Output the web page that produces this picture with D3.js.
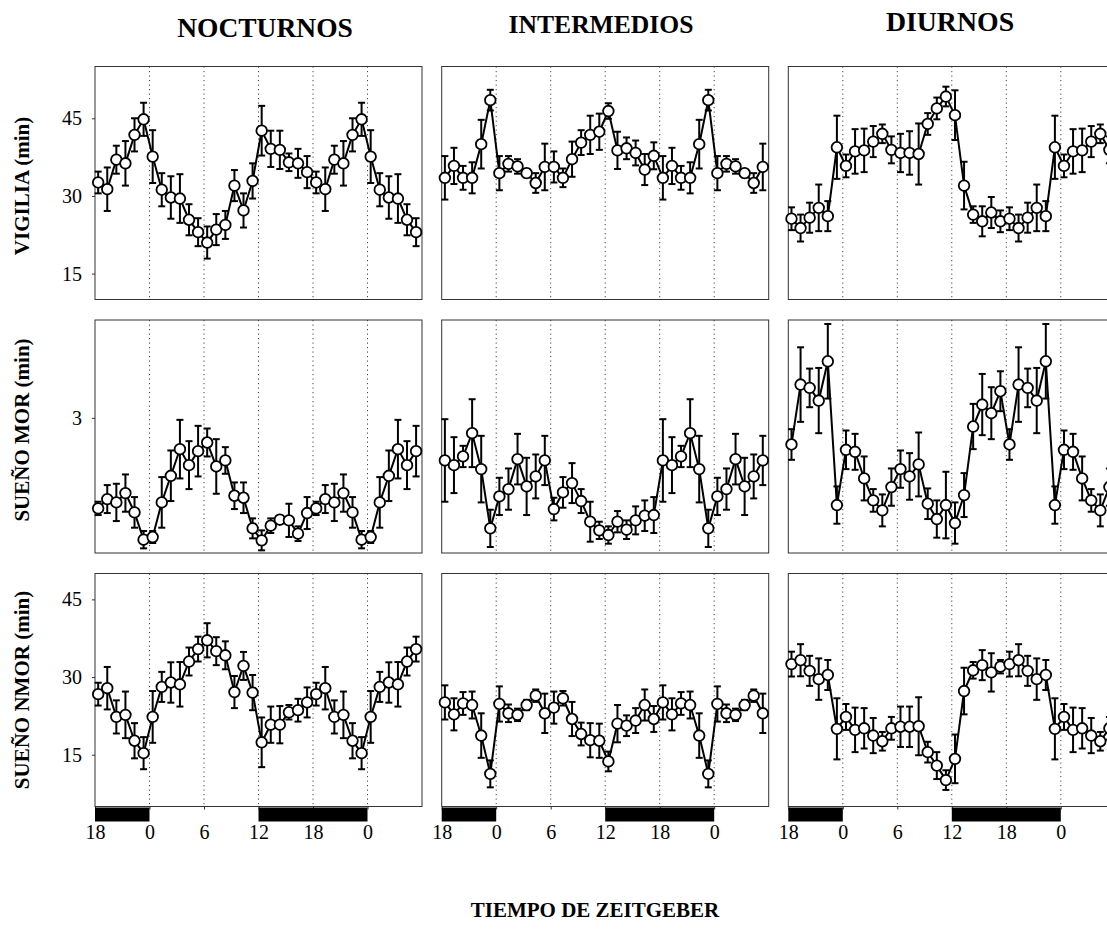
<!DOCTYPE html>
<html>
<head>
<meta charset="utf-8">
<script src="https://cdn.jsdelivr.net/npm/d3@7"></script>
<style>
  html, body { margin: 0; padding: 0; background: #fff; }
  svg { display: block; }
  text { font-family: "Liberation Serif", "Times New Roman", serif; fill: #000; }
</style>
</head>
<body>
<svg id="chart" width="1107" height="943"></svg>
<script>
// ---------- data ----------
const columnTitles = ["NOCTURNOS", "INTERMEDIOS", "DIURNOS"];
const rowTitles = ["VIGILIA (min)", "SUEÑO MOR (min)", "SUEÑO NMOR (min)"];
const xTickHours = [-6, 0, 6, 12, 18, 24];
const xTickLabels = ["18", "0", "6", "12", "18", "0"];
const yTicksVigilia = [15, 30, 45];
const yTicksMOR = [3];
const yTicksNMOR = [15, 30, 45];
const darkPeriods = [[-6, 0], [12, 24]];
// values per clock hour 0..23 (double plotted from ZT18 to ZT6 next day)
const vigNoct = [37.6,31.2,29.7,29.5,25.4,23.0,21.0,23.5,24.4,32.0,27.2,32.9,42.6,39.1,38.9,36.5,36.3,34.6,32.6,31.3,37.0,36.3,41.8,44.8];
const vigNoctErr = [5.1,3.2,4.1,4.7,3.0,2.7,3.1,3.0,2.7,3.0,3.3,3.4,4.8,3.5,3.7,1.7,2.8,3.1,2.1,4.2,2.7,4.3,3.2,3.2];
const vigInt = [34.4,36.2,35.7,34.4,32.5,35.6,35.6,33.5,37.1,40.3,41.8,42.4,46.4,38.8,39.2,38.3,35.1,37.75,33.5,35.8,33.5,33.5,40.0,48.5];
const vigIntErr = [3.3,1.5,1.4,0.8,1.9,4.5,3.0,1.8,3.4,2.4,3.7,3.5,1.5,3.6,2.1,2.4,3.0,2.6,4.2,3.5,2.3,3.0,4.7,2.0];
const vigDiu = [35.8,38.6,38.8,40.5,42.0,38.9,38.3,38.3,38.1,43.9,46.9,49.2,45.6,32.0,26.4,25.1,26.8,25.1,25.6,23.8,25.8,27.7,26.1,39.4];
const vigDiuErr = [2.2,4.3,4.2,3.0,1.8,2.6,3.7,4.2,5.9,2.1,2.1,1.9,4.8,4.6,1.6,2.9,3.0,2.1,2.2,2.6,2.9,4.5,2.9,6.1];
const morNoct = [1.21,1.73,2.13,2.53,2.29,2.50,2.63,2.27,2.36,1.83,1.80,1.34,1.16,1.38,1.47,1.46,1.26,1.57,1.64,1.78,1.73,1.87,1.58,1.17];
const morNoctErr = [0.09,0.38,0.38,0.44,0.36,0.38,0.21,0.41,0.20,0.20,0.23,0.15,0.15,0.11,0.06,0.25,0.11,0.24,0.10,0.21,0.28,0.28,0.23,0.13];
const morInt = [1.82,1.93,2.38,1.97,2.12,2.36,1.63,1.88,2.02,1.75,1.44,1.31,1.24,1.44,1.32,1.46,1.53,1.54,2.36,2.29,2.42,2.77,2.23,1.34];
const morIntErr = [0.28,0.31,0.38,0.43,0.33,0.37,0.17,0.23,0.30,0.18,0.30,0.13,0.13,0.16,0.14,0.21,0.23,0.27,0.62,0.42,0.16,0.51,0.50,0.28];
const morDiu = [2.52,2.49,2.09,1.76,1.61,1.96,2.23,2.12,2.30,1.71,1.48,1.69,1.42,1.84,2.87,3.20,3.07,3.40,2.60,3.50,3.45,3.26,3.85,1.69];
const morDiuErr = [0.29,0.27,0.33,0.17,0.24,0.28,0.28,0.35,0.48,0.23,0.28,0.50,0.31,0.33,0.34,0.46,0.39,0.30,0.23,0.56,0.29,0.49,0.56,0.28];
const nmorNoct = [22.3,28.1,28.95,28.6,33.0,35.4,37.1,35.0,34.2,27.1,32.15,27.0,17.4,20.8,20.8,23.2,23.6,25.1,26.7,27.85,22.3,22.7,17.7,15.3];
const nmorNoctErr = [5.0,2.9,3.9,4.3,2.7,2.4,3.3,2.7,2.7,3.1,2.7,3.4,4.8,3.5,3.6,1.4,2.2,2.9,2.2,4.1,3.2,4.5,3.4,3.1];
const nmorInt = [24.8,23.0,22.7,24.6,26.4,23.0,24.1,25.9,21.9,19.0,17.8,17.7,13.7,21.0,20.6,21.6,24.6,21.9,25.1,22.8,24.9,24.6,18.7,11.3];
const nmorIntErr = [3.4,1.7,1.2,1.0,1.2,3.8,3.1,1.4,3.3,2.2,3.3,3.3,1.9,3.6,2.0,2.4,3.0,2.5,3.3,3.1,2.2,2.6,4.3,2.6];
const nmorDiu = [22.3,19.8,20.1,18.7,17.6,20.1,20.4,20.4,20.5,15.5,12.9,10.1,14.2,27.3,31.3,32.3,30.9,32.0,32.5,33.25,31.2,29.6,30.4,20.0];
const nmorDiuErr = [2.5,4.3,3.9,3.4,1.8,2.2,3.9,3.9,5.6,2.0,2.6,1.9,4.7,4.5,1.6,2.9,3.7,1.3,2.4,3.1,2.9,4.0,2.9,5.9];

const series = [
  [[vigNoct, vigNoctErr], [vigInt, vigIntErr], [vigDiu, vigDiuErr]],
  [[morNoct, morNoctErr], [morInt, morIntErr], [morDiu, morDiuErr]],
  [[nmorNoct, nmorNoctErr], [nmorInt, nmorIntErr], [nmorDiu, nmorDiuErr]]
];
const rowDomains = [[10, 55], [0.97, 4.47], [5, 50]];
const rowTicks = [yTicksVigilia, yTicksMOR, yTicksNMOR];

// ---------- layout ----------
const svg = d3.select("#chart");
const colLeft = [95, 441.7, 788.3];
const rowTop = [66.5, 320, 573.5];
const pw = 327, ph = 233;
const firstHour = 18;           // plot starts at ZT18 of previous day
const nPlotted = 36;
const pointOffset = 0.35;

function plottedData(vals, errs) {
  return d3.range(nPlotted).map(k => {
    const h = (firstHour + k) % 24;
    return { t: k - 6 + pointOffset, v: vals[h], e: errs[h] };
  });
}

for (let r = 0; r < 3; r++) {
  for (let c = 0; c < 3; c++) {
    const x0 = colLeft[c], y0 = rowTop[r];
    const g = svg.append("g").attr("transform", `translate(${x0},${y0})`);
    const x = d3.scaleLinear().domain([-6, 30]).range([0, pw]);
    const y = d3.scaleLinear().domain(rowDomains[r]).range([ph, 0]);

    // dotted vertical lines
    g.selectAll("line.grid").data([0, 6, 12, 18, 24]).enter().append("line")
      .attr("x1", d => x(d)).attr("x2", d => x(d))
      .attr("y1", 0).attr("y2", ph)
      .attr("stroke", "#444").attr("stroke-width", 1)
      .attr("stroke-dasharray", "1.2,3.3");

    // frame
    g.append("rect").attr("x", 0).attr("y", 0).attr("width", pw).attr("height", ph)
      .attr("fill", "none").attr("stroke", "#333").attr("stroke-width", 1);

    // y axis ticks (first column only)
    if (c === 0) {
      const ya = d3.axisLeft(y).tickValues(rowTicks[r]).tickFormat(d3.format("d"))
        .tickSize(3).tickPadding(10);
      const ag = g.append("g").call(ya);
      ag.select(".domain").remove();
      ag.selectAll("text").style("font-size", "20px")
        .style("font-family", "'Liberation Serif','Times New Roman',serif");
      ag.selectAll("line").attr("stroke", "#333");
    }

    // bottom row: x ticks and dark bars
    if (r === 2) {
      const xa = d3.axisBottom(x).tickValues(xTickHours)
        .tickFormat((d, i) => xTickLabels[i]).tickSize(3).tickPadding(15);
      const ag = g.append("g").attr("transform", `translate(0,${ph})`).call(xa);
      ag.select(".domain").remove();
      ag.selectAll("text").style("font-size", "20px")
        .style("font-family", "'Liberation Serif','Times New Roman',serif");
      ag.selectAll("line").attr("stroke", "#333");
      g.selectAll("rect.dark").data(darkPeriods).enter().append("rect")
        .attr("x", d => x(d[0])).attr("width", d => x(d[1]) - x(d[0]))
        .attr("y", ph + 1).attr("height", 14).attr("fill", "#000");
    }

    const data = plottedData(series[r][c][0], series[r][c][1]);

    // error bars
    const eb = g.append("g").attr("stroke", "#000").attr("stroke-width", 2).attr("fill", "none");
    const capW = 3.5;
    data.forEach(d => {
      const cx = x(d.t), yt = y(d.v + d.e), yb = y(d.v - d.e);
      eb.append("line").attr("x1", cx).attr("x2", cx).attr("y1", yt).attr("y2", yb);
      eb.append("line").attr("x1", cx - capW).attr("x2", cx + capW).attr("y1", yt).attr("y2", yt);
      eb.append("line").attr("x1", cx - capW).attr("x2", cx + capW).attr("y1", yb).attr("y2", yb);
    });

    // line
    g.append("path").datum(data)
      .attr("fill", "none").attr("stroke", "#000").attr("stroke-width", 2)
      .attr("d", d3.line().x(d => x(d.t)).y(d => y(d.v)));

    // circles
    g.selectAll("circle").data(data).enter().append("circle")
      .attr("cx", d => x(d.t)).attr("cy", d => y(d.v)).attr("r", 5.3)
      .attr("fill", "#fff").attr("stroke", "#000").attr("stroke-width", 1.8);
  }
}

// column titles
const titleBase = [37, 33, 31];
const titleSize = [27.5, 25.6, 27.8];
const titleCenter = [265, 601, 950];
columnTitles.forEach((t, i) => {
  svg.append("text").attr("x", titleCenter[i])
    .attr("y", titleBase[i]).attr("text-anchor", "middle")
    .style("font-size", titleSize[i] + "px").style("font-weight", "bold").text(t);
});

// row titles
const rowCenter = [186, 430, 690];
rowTitles.forEach((t, i) => {
  svg.append("text").attr("transform", `translate(29,${rowCenter[i]}) rotate(-90)`)
    .attr("text-anchor", "middle")
    .style("font-size", "21px").style("font-weight", "bold").text(t);
});

// x axis title
svg.append("text").attr("x", 595).attr("y", 917).attr("text-anchor", "middle")
  .style("font-size", "21px").style("font-weight", "bold").text("TIEMPO DE ZEITGEBER");
</script>
</body>
</html>
